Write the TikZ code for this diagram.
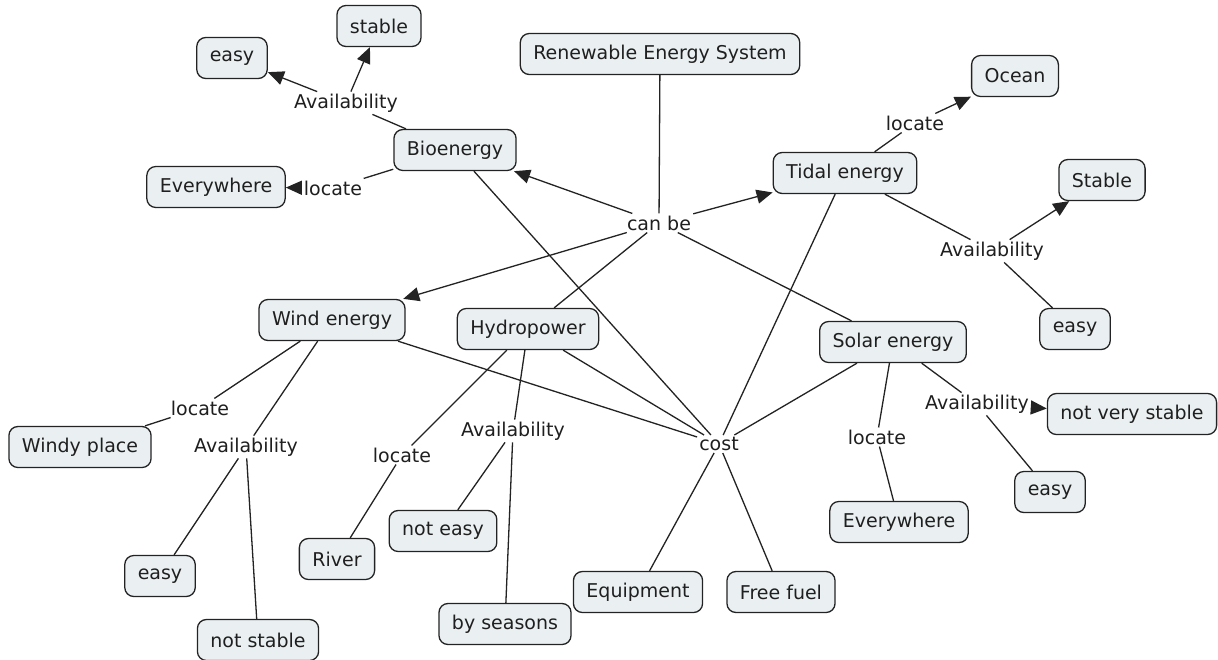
\documentclass[tikz,border=0pt]{standalone}
\usepackage{fontspec}
\setmainfont{DejaVu Sans}
\usetikzlibrary{arrows.meta}
\definecolor{cfill}{RGB}{234,240,242}
\definecolor{cline}{RGB}{35,35,35}
\begin{document}
\begin{tikzpicture}[x=1pt,y=-1pt,
  concept/.style={draw=cline, fill=cfill, rounded corners=9pt, line width=1.3pt,
    inner xsep=13pt, minimum height=41pt, font=\fontsize{19}{21}\selectfont, text=black!88},
  link/.style={inner sep=2pt, font=\fontsize{19}{21}\selectfont, text=black!88},
  conn/.style={draw=cline, line width=1.3pt},
  arr/.style={conn, -{Triangle[length=16pt,width=14pt]}}]
\useasboundingbox[fill=white] (0,0) rectangle (1218,659);

% concepts
\node[concept] (res) at (660,54) {Renewable Energy System};
\node[concept] (bstable) at (379,26) {stable};
\node[concept] (beasy) at (232,58) {easy};
\node[concept] (bio) at (455,150) {Bioenergy};
\node[concept] (bevery) at (216,187) {Everywhere};
\node[concept] (tidal) at (845,173) {Tidal energy};
\node[concept] (ocean) at (1015,76) {Ocean};
\node[concept] (tstable) at (1102,180) {Stable};
\node[concept] (teasy) at (1075,329) {easy};
\node[concept] (wind) at (332,320) {Wind energy};
\node[concept] (hydro) at (528,329) {Hydropower};
\node[concept] (solar) at (893,342) {Solar energy};
\node[concept] (windy) at (80,447) {Windy place};
\node[concept] (weasy) at (160,576) {easy};
\node[concept] (wnstable) at (258,640) {not stable};
\node[concept] (river) at (337,559) {River};
\node[concept] (hneasy) at (443,531) {not easy};
\node[concept] (hseason) at (505,624) {by seasons};
\node[concept] (equip) at (638,592) {Equipment};
\node[concept] (fuel) at (781,592) {Free fuel};
\node[concept] (severy) at (899,522) {Everywhere};
\node[concept] (snvs) at (1132,414) {not very stable};
\node[concept] (seasy) at (1050,492) {easy};

% linking phrases
\node[link] (canbe) at (659,223) {can be};
\node[link] (cost) at (719,444) {cost};
\node[link] (bavail) at (346,103) {Availability};
\node[link] (blocate) at (333,188) {locate};
\node[link] (tlocate) at (915,123) {locate};
\node[link] (tavail) at (992,251) {Availability};
\node[link] (wlocate) at (200,408) {locate};
\node[link] (wavail) at (246,447) {Availability};
\node[link] (hlocate) at (402,455) {locate};
\node[link] (havail) at (513,431) {Availability};
\node[link] (slocate) at (877,437) {locate};
\node[link] (savail) at (977,404) {Availability};

% can be
\draw[conn] (res) -- (canbe);
\draw[arr] (canbe) -- (bio);
\draw[arr] (canbe) -- (tidal);
\draw[arr] (canbe) -- (wind);
\draw[conn] (canbe) -- (hydro);
\draw[conn] (canbe) -- (solar);

% cost
\draw[conn] (bio) -- (cost);
\draw[conn] (tidal) -- (cost);
\draw[conn] (wind) -- (cost);
\draw[conn] (hydro) -- (cost);
\draw[conn] (solar) -- (cost);
\draw[conn] (cost) -- (equip);
\draw[conn] (cost) -- (fuel);

% bioenergy
\draw[conn] (bio) -- (bavail);
\draw[arr] (bavail) -- (beasy);
\draw[arr] (bavail) -- (bstable);
\draw[conn] (bio) -- (blocate);
\draw[arr] (blocate) -- (bevery);

% tidal
\draw[conn] (tidal) -- (tlocate);
\draw[arr] (tlocate) -- (ocean);
\draw[conn] (tidal) -- (tavail);
\draw[arr] (tavail) -- (tstable);
\draw[conn] (tavail) -- (teasy);

% wind
\draw[conn] (wind) -- (wlocate);
\draw[conn] (wlocate) -- (windy);
\draw[conn] (wind) -- (wavail);
\draw[conn] (wavail) -- (weasy);
\draw[conn] (wavail) -- (wnstable);

% hydro
\draw[conn] (hydro) -- (hlocate);
\draw[conn] (hlocate) -- (river);
\draw[conn] (hydro) -- (havail);
\draw[conn] (havail) -- (hneasy);
\draw[conn] (havail) -- (hseason);

% solar
\draw[conn] (solar) -- (slocate);
\draw[conn] (slocate) -- (severy);
\draw[conn] (solar) -- (savail);
\draw[arr] (savail) -- (snvs);
\draw[conn] (savail) -- (seasy);
\end{tikzpicture}
\end{document}
